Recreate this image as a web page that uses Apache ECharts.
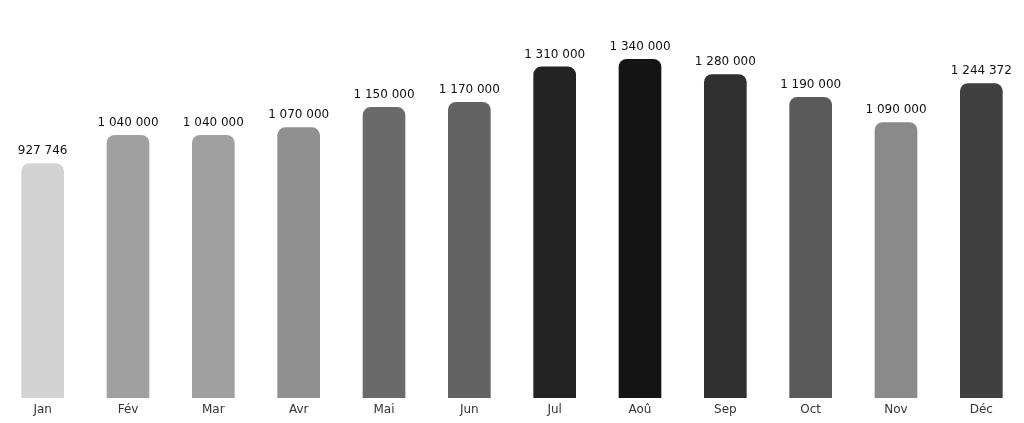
<!DOCTYPE html>
<html>
<head>
	<meta charset="utf-8">
	<title>monthly bars</title>
	<script src="https://cdn.jsdelivr.net/npm/echarts@6/dist/echarts.min.js"></script>
	<style>body{margin:0;background:#fff}#chart{width:1024px;height:423px}</style>
</head>
<body>
	<div id="chart"></div>
	<script>
		var months = ['Jan', 'Fév', 'Mar', 'Avr', 'Mai', 'Jun', 'Jul', 'Aoû', 'Sep', 'Oct', 'Nov', 'Déc'];
		var values = [927746, 1040000, 1040000, 1070000, 1150000, 1170000, 1310000, 1340000, 1280000, 1190000, 1090000, 1244372];
		var shades = ['#d3d3d3', '#a0a0a0', '#a0a0a0', '#909090', '#6a6a6a', '#636363', '#232323', '#141414', '#303030', '#5a5a5a', '#8a8a8a', '#404040'];

		function fmt(v) {
			return String(v).replace(/\B(?=(\d{3})+(?!\d))/g, ' ');
		}

		var chart = echarts.init(document.getElementById('chart'));
		chart.setOption({
			animation: false,
			grid: { left: 0, right: 0, top: 59, bottom: 25 },
			xAxis: {
				type: 'category',
				data: months,
				axisLine: { show: false },
				axisTick: { show: false },
				axisLabel: { color: '#333', fontSize: 12, margin: 6, fontFamily: 'DejaVu Sans' }
			},
			yAxis: { type: 'value', min: 0, max: 1340000, show: false, splitLine: { show: false } },
			series: [{
				type: 'bar',
				barWidth: '50%',
				data: values.map(function (v, i) {
					return { value: v, itemStyle: { color: shades[i] } };
				}),
				itemStyle: { borderRadius: [8, 8, 0, 0] },
				label: {
					show: true,
					position: 'top',
					distance: 6,
					color: '#111',
					fontSize: 12,
					fontFamily: 'DejaVu Sans',
					formatter: function (p) { return fmt(p.value); }
				}
			}]
		});
	</script>
</body>
</html>
